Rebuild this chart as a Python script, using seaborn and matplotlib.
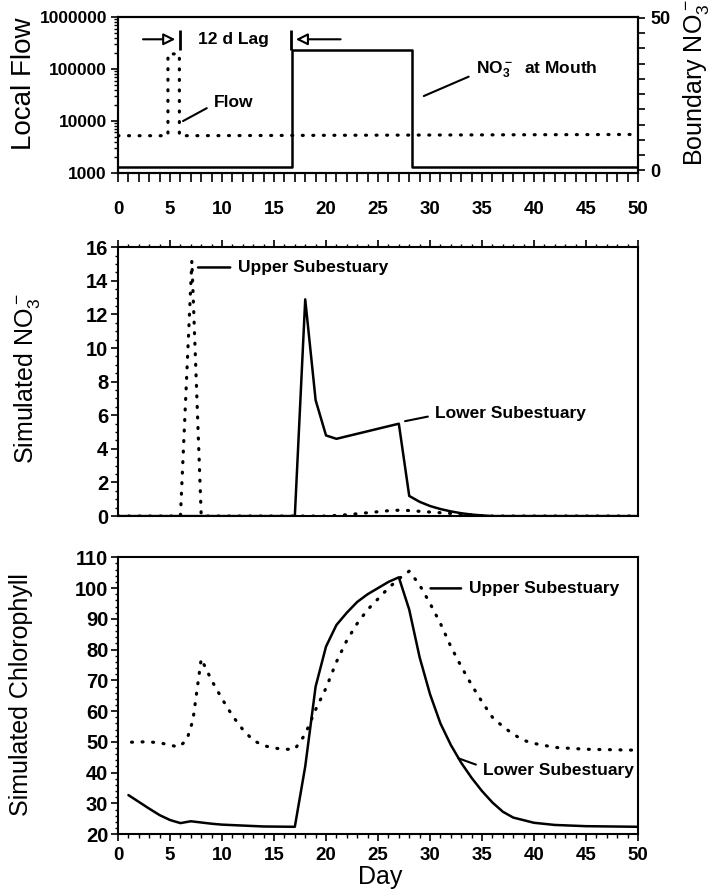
import numpy as np
import matplotlib
matplotlib.use('Agg')
import matplotlib.pyplot as plt
import seaborn as sns
from matplotlib.ticker import MultipleLocator, FixedLocator, LogLocator, NullFormatter, FuncFormatter

# top panel: boundary forcing
flow_day = [0, 4.8, 4.8, 5.9, 5.9, 50]
flow_val = [5200, 5200, 195000, 195000, 5200, 5500]
mouth_day = [0, 16.7, 16.7, 28.3, 28.3, 50]
mouth_no3 = [1.2, 1.2, 39.5, 39.5, 1.2, 1.2]

# middle panel: simulated NO3
upper_no3_day = [0, 6.0, 7.1, 8.0, 20, 22, 24, 26, 27, 28, 30, 32, 34, 35.5, 50]
upper_no3 = [0, 0, 15.2, 0, 0, 0.08, 0.2, 0.32, 0.35, 0.33, 0.24, 0.16, 0.06, 0, 0]
lower_no3_day = [0, 17, 18, 19, 20, 21, 22, 23, 24, 25, 26, 27, 28, 29, 30, 31, 32, 33, 34, 35, 36, 50]
lower_no3 = [0, 0, 12.9, 6.9, 4.8, 4.6, 4.75, 4.9, 5.05, 5.2, 5.35, 5.5, 1.2, 0.85, 0.6, 0.42,
             0.28, 0.17, 0.09, 0.04, 0.0, 0]

# bottom panel: simulated chlorophyll
lower_chl_day = [1, 2, 3, 4, 5, 6, 7, 8, 9, 10, 12, 14, 17, 18, 19, 20, 21, 22, 23, 24, 25, 26, 27,
                 28, 29, 30, 31, 32, 33, 34, 35, 36, 37, 38, 40, 42, 45, 50]
lower_chl = [32.7, 30.5, 28.3, 26.2, 24.6, 23.6, 24.2, 23.8, 23.4, 23.1, 22.8, 22.5, 22.4, 42, 68, 81,
             88, 92, 95.5, 98, 100, 102, 103.5, 93, 77.5, 65.5, 56, 49, 43.2, 38.3, 34, 30.3, 27.3,
             25.4, 23.7, 23.0, 22.6, 22.4]
upper_chl_day = [1.3, 2, 3, 4, 5, 5.8, 6.6, 7.2, 8, 9, 10, 11, 12, 13, 14, 15, 16, 17, 18, 19, 20, 21,
                 22, 23, 24, 25, 26, 27, 28, 29, 30, 31, 32, 33, 34, 35, 36, 37, 38, 39, 40, 42, 45, 50]
upper_chl = [49.9, 50, 50, 49.7, 49, 48.3, 50.5, 57, 77, 70, 64, 58.5, 54, 50.5, 48.8, 48, 47.6, 47.6,
             52.5, 60.5, 67.5, 76, 83, 88.5, 93, 96.5, 100, 103, 105.5, 101, 95, 88.5, 81, 74.5, 68.5,
             63, 58, 55, 52.5, 50.5, 49.5, 48.2, 47.6, 47.3]

x_ticks = [0, 5, 10, 15, 20, 25, 30, 35, 40, 45, 50]

sns.set_style('ticks')
plt.rcParams['font.family'] = ['Liberation Sans', 'DejaVu Sans']
plt.rcParams['mathtext.default'] = 'regular'
plt.rcParams['axes.linewidth'] = 1.5
plt.rcParams['axes.edgecolor'] = 'black'
plt.rcParams['xtick.color'] = 'black'
plt.rcParams['ytick.color'] = 'black'
plt.rcParams['text.color'] = 'black'
plt.rcParams['axes.labelcolor'] = 'black'

solid = dict(color='black', lw=1.8, estimator=None, sort=False)
dotted = dict(color='black', lw=2.3, estimator=None, sort=False, linestyle=(0, (0.3, 3.0)),
              dash_capstyle='round')

fig = plt.figure(figsize=(7.14, 8.96), dpi=100)
ax1 = fig.add_axes([0.1653, 0.807, 0.7283, 0.174])
ax2 = fig.add_axes([0.1653, 0.424, 0.7283, 0.300])
ax3 = fig.add_axes([0.1653, 0.069, 0.7283, 0.309])

# ---- top panel ----
sns.lineplot(x=flow_day, y=flow_val, ax=ax1, **dotted)
ax1.set_yscale('log')
ax1.set_ylim(1000, 1e6)
ax1.set_xlim(0, 50)
ax1.yaxis.set_major_locator(FixedLocator([1e3, 1e4, 1e5, 1e6]))
ax1.yaxis.set_major_formatter(FuncFormatter(lambda v, p: f'{int(round(v))}'))
ax1.yaxis.set_minor_locator(LogLocator(base=10, subs=np.arange(2, 10)))
ax1.yaxis.set_minor_formatter(NullFormatter())
ax1.xaxis.set_major_locator(FixedLocator(x_ticks))
ax1.xaxis.set_minor_locator(MultipleLocator(1))
ax1.tick_params(axis='x', which='both', length=6.5, width=1.2, pad=14, labelsize=13.5)
ax1.tick_params(axis='y', which='major', length=5, width=1.2, pad=3, labelsize=12.5)
ax1.tick_params(axis='y', which='minor', length=3, width=1)
for lab in ax1.get_xticklabels() + ax1.get_yticklabels():
    lab.set_fontweight('bold')
ax1.set_ylabel('Local Flow', fontsize=20)
ax1.yaxis.set_label_coords(-0.156, 0.57)

ax1r = ax1.twinx()
sns.lineplot(x=mouth_day, y=mouth_no3, ax=ax1r, **solid)
ax1r.set_ylim(-0.8, 50.3)
ax1r.yaxis.set_major_locator(FixedLocator([0, 50]))
ax1r.yaxis.set_minor_locator(MultipleLocator(5))
ax1r.tick_params(axis='y', which='both', length=5, width=1.2, pad=4, labelsize=13)
for lab in ax1r.get_yticklabels():
    lab.set_fontweight('bold')
ax1r.set_ylabel('Boundary NO$_3^-$', fontsize=18)
ax1r.yaxis.set_label_coords(1.083, 0.58)

ann = dict(fontsize=12.5, fontweight='bold', ha='left', va='center')
head = dict(arrowstyle='-|>,head_length=0.7,head_width=0.35', fc='white', ec='black', lw=1.5,
            shrinkA=0, shrinkB=0)
ax1r.annotate('', xy=(5.5, 43), xytext=(2.4, 43), arrowprops=head)
ax1r.annotate('', xy=(17.1, 43), xytext=(21.4, 43), arrowprops=head)
ax1r.vlines([6.0, 16.6], 39.6, 46.1, color='black', lw=2)
ax1r.text(11.05, 43, '12 d Lag', fontsize=12.5, fontweight='bold', ha='center', va='center')
ax1r.annotate('Flow', xy=(6.25, 16.2), xytext=(9.2, 22.4), **ann,
              arrowprops=dict(arrowstyle='-', color='black', lw=1.5, relpos=(0, 0.35),
                              shrinkA=3, shrinkB=0))
ax1r.annotate('NO$_3^-$  at Mouth', xy=(29.4, 24.4), xytext=(34.4, 33.1), **ann,
              arrowprops=dict(arrowstyle='-', color='black', lw=1.5, relpos=(0, 0.3),
                              shrinkA=3, shrinkB=0))

# ---- middle panel ----
sns.lineplot(x=upper_no3_day, y=upper_no3, ax=ax2, **dotted)
sns.lineplot(x=lower_no3_day, y=lower_no3, ax=ax2, **solid)
ax2.set_xlim(0, 50)
ax2.set_ylim(0, 16)
ax2.xaxis.tick_top()
ax2.xaxis.set_major_locator(FixedLocator(x_ticks))
ax2.xaxis.set_minor_locator(MultipleLocator(1))
ax2.tick_params(axis='x', which='major', length=5, width=1.2, labeltop=False, labelbottom=False)
ax2.tick_params(axis='x', which='minor', length=2.5, width=1)
ax2.yaxis.set_major_locator(MultipleLocator(2))
ax2.yaxis.set_minor_locator(MultipleLocator(0.5))
ax2.tick_params(axis='y', which='major', length=5, width=1.2, pad=2, labelsize=14.5)
ax2.tick_params(axis='y', which='minor', length=2.5, width=1)
for lab in ax2.get_yticklabels():
    lab.set_fontweight('bold')
ax2.set_ylabel('Simulated NO$_3^-$', fontsize=18)
ax2.yaxis.set_label_coords(-0.146, 0.51)
ax2.annotate('Upper Subestuary', xy=(7.7, 14.8), xytext=(11.5, 14.8), **ann,
             arrowprops=dict(arrowstyle='-', color='black', lw=1.8, shrinkA=3, shrinkB=0))
ax2.annotate('Lower Subestuary', xy=(27.6, 5.65), xytext=(30.5, 6.1), **ann,
             arrowprops=dict(arrowstyle='-', color='black', lw=1.5, relpos=(0, 0.4),
                             shrinkA=3, shrinkB=0))

# ---- bottom panel ----
sns.lineplot(x=upper_chl_day, y=upper_chl, ax=ax3, **dotted)
sns.lineplot(x=lower_chl_day, y=lower_chl, ax=ax3, **solid)
ax3.set_xlim(0, 50)
ax3.set_ylim(20, 110)
ax3.xaxis.set_major_locator(FixedLocator(x_ticks))
ax3.xaxis.set_minor_locator(MultipleLocator(1))
ax3.tick_params(axis='x', which='major', length=5, width=1.2, pad=4, labelsize=13.5)
ax3.tick_params(axis='x', which='minor', length=3, width=1)
ax3.yaxis.set_major_locator(MultipleLocator(10))
ax3.yaxis.set_minor_locator(MultipleLocator(2))
ax3.tick_params(axis='y', which='major', length=5, width=1.2, pad=2, labelsize=14.5)
ax3.tick_params(axis='y', which='minor', length=2.5, width=1)
for lab in ax3.get_xticklabels() + ax3.get_yticklabels():
    lab.set_fontweight('bold')
ax3.set_ylabel('Simulated Chlorophyll', fontsize=18)
ax3.yaxis.set_label_coords(-0.163, 0.505)
ax3.set_xlabel('Day', fontsize=18)
ax3.xaxis.set_label_coords(0.504, -0.112)
ax3.annotate('Upper Subestuary', xy=(30.05, 99.9), xytext=(33.7, 99.9), **ann,
             arrowprops=dict(arrowstyle='-', color='black', lw=1.8, shrinkA=3, shrinkB=0))
ax3.annotate('Lower Subestuary', xy=(32.7, 44.7), xytext=(35.1, 40.8), **ann,
             arrowprops=dict(arrowstyle='-', color='black', lw=1.5, relpos=(0, 0.7),
                             shrinkA=3, shrinkB=0))

fig.savefig('out.png', dpi=100)
